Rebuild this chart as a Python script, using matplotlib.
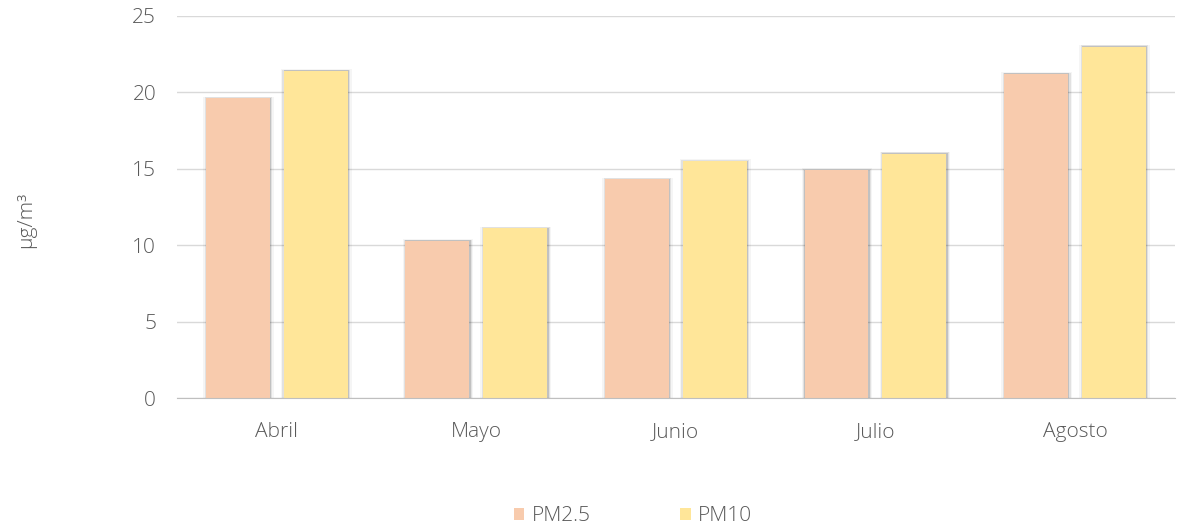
import matplotlib.pyplot as plt
import numpy as np

months = ['Abril', 'Mayo', 'Junio', 'Julio', 'Agosto']
pm25 = [19.6, 10.3, 14.3, 14.9, 21.2]
pm10 = [21.4, 11.1, 15.5, 16.0, 23.0]

c_pm25 = '#F8CBAD'
c_pm10 = '#FFE699'
txt = '#595959'
fs = 15

plt.rcParams['font.family'] = ['Open Sans', 'DejaVu Sans']
plt.rcParams['font.weight'] = 'light'

fig = plt.figure(figsize=(11.83, 5.29), dpi=100)
ax = fig.add_axes([0.1496, 0.2476, 0.8434, 0.7222])

x = np.arange(len(months))
w = 0.32
off = 0.195


def shadow(ax, xc, h):
    # soft drop shadow: a few widening translucent layers behind the bar
    for kx, ky, a in [(0.004, 0.06, 0.14), (0.010, 0.12, 0.08), (0.017, 0.2, 0.04)]:
        ax.add_patch(plt.Rectangle((xc - w / 2 - kx + 0.003, 0), w + 2 * kx, h + ky * 0.6,
                                   facecolor='black', alpha=a, linewidth=0, zorder=2))


for xi, a, b in zip(x, pm25, pm10):
    shadow(ax, xi - off, a)
    shadow(ax, xi + off, b)

ax.bar(x - off, pm25, w, color=c_pm25, zorder=3, label='PM2.5')
ax.bar(x + off, pm10, w, color=c_pm10, zorder=3, label='PM10')

ax.set_xlim(-0.5, 4.5)
ax.set_ylim(0, 25)
ax.set_yticks(range(0, 26, 5))
ax.yaxis.grid(True, color='#D9D9D9', linewidth=1)
ax.set_axisbelow(True)
for s in ['top', 'right', 'left']:
    ax.spines[s].set_visible(False)
ax.spines['bottom'].set_color('#BFBFBF')
ax.spines['bottom'].set_zorder(4)
ax.set_xticks(x)
ax.set_xticklabels(months)
ax.tick_params(axis='both', length=0, colors=txt, labelsize=fs)
ax.tick_params(axis='y', pad=15)
ax.tick_params(axis='x', pad=17)

fig.text(0.022, 0.585, 'µg/m³', rotation=90, ha='center', va='center', color=txt, fontsize=fs)

fig.legend(loc='center', bbox_to_anchor=(0.535, 0.024), ncol=2, frameon=False,
           fontsize=fs, labelcolor=txt, handlelength=0.5, handleheight=0.5,
           handletextpad=0.35, columnspacing=4.3)

fig.savefig('out.png', dpi=100)
